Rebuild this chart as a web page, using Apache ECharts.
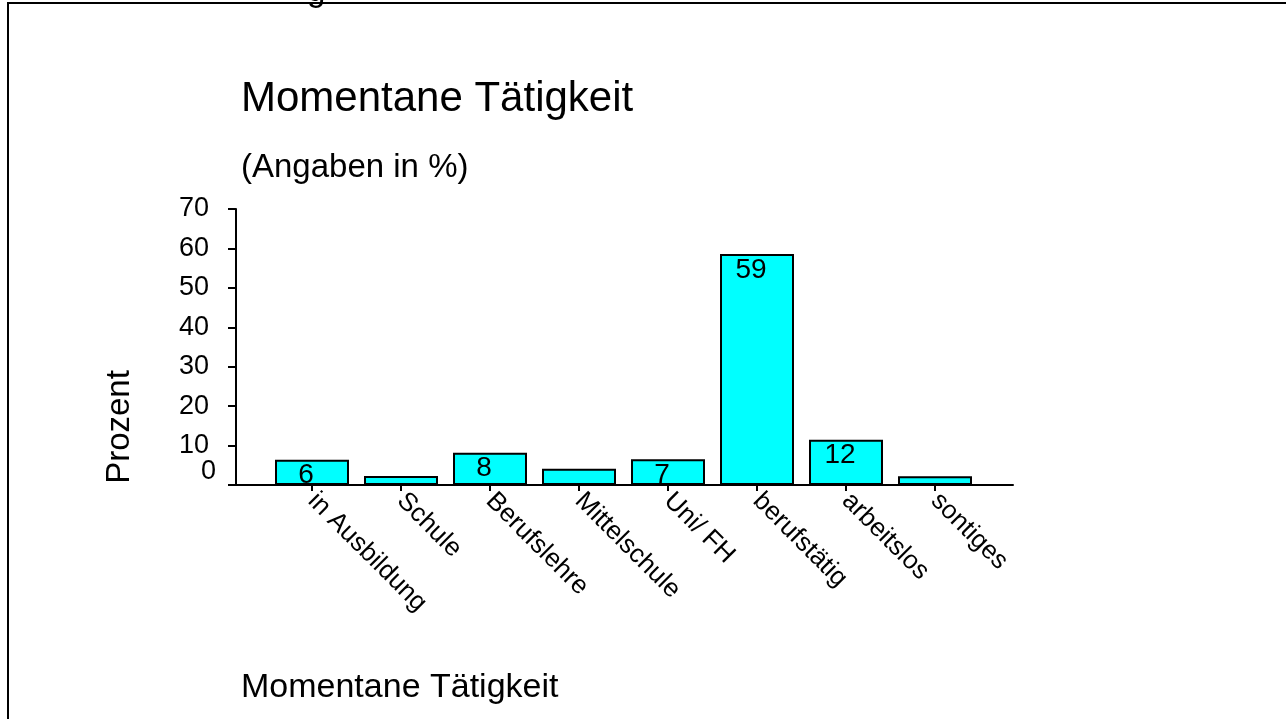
<!DOCTYPE html>
<html>
<head>
<meta charset="utf-8">
<script src="https://cdn.jsdelivr.net/npm/echarts@6/dist/echarts.min.js"></script>
<style>
  html, body { margin: 0; padding: 0; background: #fff; }
  #chart { width: 1286px; height: 719px; }
</style>
</head>
<body>
<div id="chart"></div>
<script>
var categories = ['in Ausbildung', 'Schule', 'Berufslehre', 'Mittelschule', 'Uni/ FH', 'berufstätig', 'arbeitslos', 'sontiges'];
var values     = [6.4, 2.3, 8.2, 4.1, 6.5, 58.6, 11.5, 2.2];
var yTicks     = { min: 0, max: 70, interval: 10 };

var font = "'Liberation Sans', Arial, sans-serif";

var chart = echarts.init(document.getElementById('chart'));

var option = {
    backgroundColor: '#fff',
    animation: false,
    title: [
        {
            text: 'Momentane Tätigkeit',
            left: 236, top: 73,
            textStyle: { fontFamily: font, fontSize: 42, fontWeight: 'normal', color: '#000' }
        },
        {
            text: '(Angaben in %)',
            left: 236, top: 146,
            textStyle: { fontFamily: font, fontSize: 33, fontWeight: 'normal', color: '#000' }
        },
        {
            text: 'Momentane Tätigkeit',
            left: 236, top: 666,
            textStyle: { fontFamily: font, fontSize: 34, fontWeight: 'normal', color: '#000' }
        }
    ],
    grid: [
        // frame with the axis lines
        { left: 236, right: 273, top: 209, bottom: 234 },
        // bar area
        { left: 267.5, width: 712, top: 209, bottom: 234 }
    ],
    xAxis: [
        {
            type: 'value',
            gridIndex: 0,
            min: 0, max: 1,
            axisLine: { show: true, onZero: false, lineStyle: { color: '#000', width: 2 } },
            axisTick: { show: false },
            axisLabel: { show: false },
            splitLine: { show: false }
        },
        {
            type: 'category',
            gridIndex: 1,
            data: categories,
            axisLine: { show: false },
            axisTick: { show: true, alignWithLabel: true, length: 6, lineStyle: { color: '#000', width: 2 } },
            axisLabel: {
                rotate: -45,
                margin: 12,
                interval: 0,
                fontFamily: font,
                fontSize: 26,
                color: '#000'
            }
        }
    ],
    yAxis: [
        {
            type: 'value',
            gridIndex: 0,
            min: yTicks.min, max: yTicks.max, interval: yTicks.interval,
            axisLine: { show: true, lineStyle: { color: '#000', width: 2 } },
            axisTick: { show: true, length: 8, lineStyle: { color: '#000', width: 2 } },
            splitLine: { show: false },
            axisLabel: {
                margin: 27,
                fontFamily: font,
                fontSize: 27,
                color: '#000',
                formatter: function(v)
                {
                    return v === 0 ? '' : String(v);
                }
            }
        },
        {
            type: 'value',
            gridIndex: 1,
            min: yTicks.min, max: yTicks.max, interval: yTicks.interval,
            show: false
        },
        {
            // the zero label sits a bit above its tick
            type: 'value',
            gridIndex: 0,
            position: 'left',
            min: yTicks.min, max: yTicks.max, interval: yTicks.max,
            axisLine: { show: false },
            axisTick: { show: false },
            splitLine: { show: false },
            axisLabel: {
                margin: 20,
                verticalAlign: 'bottom',
                fontFamily: font,
                fontSize: 27,
                color: '#000',
                formatter: function(v)
                {
                    return v === 0 ? '0' : '';
                }
            }
        }
    ],
    graphic: [
        {
            type: 'rect',
            shape: { x: 8, y: 3, width: 1300, height: 740 },
            style: { fill: 'none', stroke: '#000', lineWidth: 2 }
        },
        {
            // descender of the cut-off line above the frame
            type: 'text',
            x: 307, y: -25,
            style: { text: 'g', fontFamily: font, fontSize: 33, fill: '#000' }
        },
        {
            type: 'text',
            x: 120, y: 427,
            rotation: Math.PI / 2,
            style: {
                text: 'Prozent',
                fontFamily: font, fontSize: 33, fill: '#000',
                textAlign: 'center', textVerticalAlign: 'middle'
            }
        }
    ],
    series: [
        {
            type: 'bar',
            xAxisIndex: 1,
            yAxisIndex: 1,
            data: values,
            barWidth: 74,
            itemStyle: { color: '#00FFFF', borderColor: '#000', borderWidth: 2 },
            label: {
                show: true,
                position: 'insideTop',
                distance: 2,
                offset: [-6, 0],
                fontFamily: font,
                fontSize: 28,
                color: '#000',
                formatter: function(p)
                {
                    return p.value >= 5 ? Math.round(p.value) : '';
                }
            }
        }
    ]
};

chart.setOption(option);
window.addEventListener('resize', chart.resize);
</script>
</body>
</html>
